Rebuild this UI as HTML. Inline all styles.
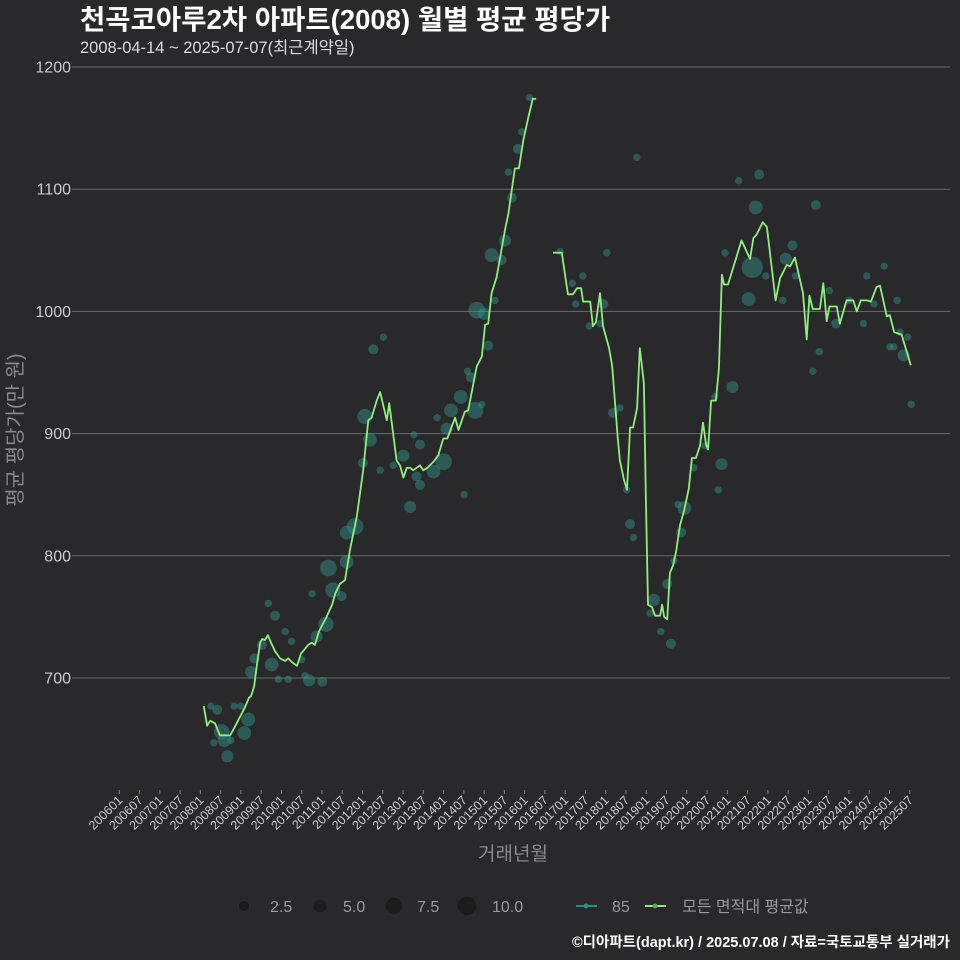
<!DOCTYPE html>
<html><head><meta charset="utf-8"><style>
html,body{margin:0;padding:0;background:#29282a;}
svg{display:block;font-family:"Liberation Sans","Noto Sans CJK KR",sans-serif;}
</style></head><body>
<svg id="chart" width="960" height="960" viewBox="0 0 960 960">
<rect width="960" height="960" fill="#29282a"/>
<text x="80" y="29" font-size="27.5" font-weight="bold" fill="#ffffff">천곡코아루2차 아파트(2008) 월별 평균 평당가</text>
<text x="80" y="53" font-size="16.5" fill="#dddddd">2008-04-14 ~ 2025-07-07(최근계약일)</text>
<g id="grid"></g>
<g id="yticks"></g>
<g id="xticks"></g>
<g id="bubbles"></g>
<g id="lines"></g>
<text x="513" y="860" font-size="19" fill="#8a8a8a" text-anchor="middle">거래년월</text>
<text transform="translate(22,430) rotate(-90)" font-size="20" fill="#8a8a8a" text-anchor="middle">평균 평당가(만 원)</text>
<g>
<g><circle cx="244" cy="906" r="5.5" fill="#1c1c1d" stroke="#333" stroke-width="0.5"/><text x="270" y="912" font-size="16" fill="#9a9a9a">2.5</text></g>
<g><circle cx="320" cy="906" r="7" fill="#1c1c1d" stroke="#333" stroke-width="0.5"/><text x="343" y="912" font-size="16" fill="#9a9a9a">5.0</text></g>
<g><circle cx="394" cy="906" r="8.7" fill="#1c1c1d" stroke="#333" stroke-width="0.5"/><text x="417" y="912" font-size="16" fill="#9a9a9a">7.5</text></g>
<g><circle cx="467" cy="906" r="9.7" fill="#1c1c1d" stroke="#333" stroke-width="0.5"/><text x="492" y="912" font-size="16" fill="#9a9a9a">10.0</text></g>
<g><line x1="576" y1="906" x2="597" y2="906" stroke="#2a8f8c" stroke-width="2"/><circle cx="586" cy="906" r="2.5" fill="#2a8f8c"/><text x="612" y="912" font-size="16" fill="#9a9a9a">85</text></g>
<g><line x1="645" y1="906" x2="666" y2="906" stroke="#90ee80" stroke-width="2"/><circle cx="655" cy="906" r="2.5" fill="#5aa85a"/><text x="682" y="912" font-size="16" fill="#9a9a9a">모든 면적대 평균값</text></g>
</g>
<text x="950" y="947" font-size="14.5" font-weight="bold" fill="#ffffff" text-anchor="end">©디아파트(dapt.kr) / 2025.07.08 / 자료=국토교통부 실거래가</text>
</svg>
<script>
// month index: 0 = 2006-01
const yTicks = [700, 800, 900, 1000, 1100, 1200];
const xTickMonths = [];
for (let m = 0; m <= 234; m += 6) xTickMonths.push(m);
const lineMonths = [25,26,26.9,28.3,29.8,31.3,32.8,34,35.7,37.2,38.4,39,39.9,40.8,41.7,42.3,43.1,44,44.9,46.1,47.6,49.1,50,51.1,52.6,53.8,54.7,55.9,57,57.9,59.1,60,61.2,63,63.9,65.3,66.8,68.3,70.3,72.2,73.7,74.7,76.2,77.2,79.2,79.9,82.1,83.1,84.1,85.1,86.1,87,88,89,90,91.2,93,94.4,95.9,97.1,99.4,100.4,102.3,103.3,105.8,107.3,108.3,109.2,110.2,111.7,114.2,115.2,117.1,118.3,119.6,121.1,122.4,123.4,
128.4,131,132.8,134.3,135.5,136.7,137.3,139.4,140.2,141.1,142.3,143.2,145,145.9,147.6,148.2,149.4,150.3,151.2,152.1,153.3,154.1,155.3,155.9,156.5,157.7,158.6,160.1,160.7,161.3,162.2,163,163.9,164.8,166,167.2,168.6,169.5,170.7,171.9,172.8,173.7,174.3,175.2,176.6,177.5,178.4,179,180.2,184.2,186.7,187.7,188.7,190.5,191.7,194.3,195.6,197.6,198.6,200,202.4,203.5,204.3,205.3,207.4,208.4,209.4,210.2,212.4,213.3,215.3,217.3,218.3,219.5,221.3,222.5,224.2,225.2,227.2,228.1,229.4,231.6,234.3];
const lineValues = [677,661,665,663,653,653,653,659,668,676,684,685,693,712,729,732,731,735,729,722,716,714,716,713,710,720,723,727,729,727,738,743,749,760,769,777,780,805,832,870,911,913,927,934,911,925,878,874,864,872,872,870,872,874,870,872,877,882,896,896,913,903,918,919,955,963,989,990,1015,1028,1067,1080,1117,1117,1140,1159,1174,1174,
1048,1048,1014,1014,1019,1019,1008,1008,988,991,1015,988,970,955,895,878,862,854,905,905,921,970,941,846,760,758,751,751,760,750,748,786,792,803,825,837,855,880,880,890,909,891,887,927,927,953,1030,1022,1022,1058,1043,1060,1063,1073,1069,1009,1027,1038,1037,1044,1015,977,1013,1002,1002,1023,992,1004,1004,990,1009,1009,1000,1009,1009,1008,1020,1021,996,997,983,981,956];
const bubbleMonths = [29,27.1,30.3,31.1,28,32,33,34,36,37,38.2,39,40,42.2,44.1,46.1,45.1,49.1,51,47.1,50,54,55,56.2,60.1,57.1,58.4,61.2,63.2,65.8,61.9,67.3,69.8,67.3,86.1,102.1,89,84.1,81.1,77.2,72.1,74.2,72.7,75.2,78.2,87.2,89,88,93,96,94.1,96.9,98.2,101.1,105.3,107.3,104.1,103.1,109.2,105.8,108,111.2,110.2,113.2,114.2,116.2,115.2,118,119.1,121.4,
153.2,130.5,144.3,137.2,134.1,135.1,139.1,143.3,142.3,146.2,148.2,150.2,151.2,152.2,157.1,158.3,160.3,163.3,162.2,164.2,166.3,167.3,165.4,170.1,173.4,177.3,178.3,176.3,181.5,179.3,183.4,189.4,188.4,187.4,186.3,191.4,196.4,197.3,199.3,200.2,206.2,205.3,207.2,210.2,212.2,216.1,220.3,221.3,223.4,226.4,230.3,231.1,228.1,229.3,232.2,233.4,234.4];
const bubbleValues = [674,677,656,649,647,636,649,677,677,655,666,705,716,727,761,751,711,738,730,699,699,715,702,698,697,769,734,744,772,767,790,795,824,819,840,850,891,882,874,870,876,895,914,969,979,899,858,865,869,877,913,904,919,930,919,924,946,951,972,1001,998,1009,1046,1042,1058,1093,1114,1133,1147,1175,
1126,1049,1048,1029,1023,1006,988,1006,990,917,921,854,826,815,753,764,738,728,777,796,819,839,842,872,890,854,875,930,938,1048,1107,1112,1085,1036,1010,1029,1009,1043,1054,1029,1087,951,967,1017,990,1009,990,1029,1006,1037,1009,983,971,971,964,979,924];
const bubbleCounts = [2,1,5,4,1,3,1,1,1,4,4,3,2,2,1,2,4,1,1,1,1,1,1,3,2,1,3,5,5,2,6,4,6,4,3,1,2,3,1,1,2,4,5,2,1,1,2,2,4,6,1,3,4,4,6,1,2,1,2,6,3,1,4,2,3,2,1,2,1,1,
1,1,1,1,1,1,1,2,1,2,1,1,2,1,1,3,1,2,2,1,2,4,1,1,1,1,3,1,3,1,1,2,4,10,4,1,1,3,2,1,2,1,1,1,2,1,1,1,1,1,1,1,1,1,3,1,1];

const NS = 'http://www.w3.org/2000/svg';
const X0 = 119.3, XM = 3.378, Y0 = 678, YS = 1.222;
function xScale(m){ return X0 + m * XM; }
function yScale(v){ return Y0 - (v - 700) * YS; }
function rScale(n){ return 3.2 * Math.sqrt(n) + 0.5; }
function mk(tag, attrs, parent){ const e = document.createElementNS(NS, tag); for (const k in attrs) e.setAttribute(k, attrs[k]); parent.appendChild(e); return e; }

const grid = document.getElementById('grid');
const yg = document.getElementById('yticks');
yTicks.forEach(v => {
  const y = yScale(v);
  const l = mk('line', {x1:76, x2:950, y1:y, y2:y, stroke:'#6a6a6a', 'stroke-width':1}, grid);
  
  
  const t = mk('line', {x1:72, x2:76, y1:y, y2:y, stroke:'#6a6a6a', 'stroke-width':1}, yg);
  
  
  const tx = mk('text', {x:71, y:y+5.5, 'font-size':16, fill:'#cccccc', 'text-anchor':'end'}, yg);
  tx.textContent = v;
  
  
});
const xg = document.getElementById('xticks');
xTickMonths.forEach(m => {
  const x = xScale(m);
  const t = mk('line', {x1:x, x2:x, y1:790, y2:794, stroke:'#888', 'stroke-width':1}, xg);
  
  
  const yr = 2006 + Math.floor(m / 12), mo = (m % 12) + 1;
  const lbl = String(yr) + (mo < 10 ? '0' : '') + mo;
  const tx = mk('text', {x:x+4, y:801, 'font-size':12.5, fill:'#cccccc', 'text-anchor':'end', transform:'rotate(-45 ' + (x+4) + ' 801)'}, xg);
  tx.textContent = lbl;
  
  
});
const bg = document.getElementById('bubbles');
bubbleMonths.forEach((m, i) => {
  const c = mk('circle', {cx:xScale(m), cy:yScale(bubbleValues[i]), r:rScale(bubbleCounts[i]), fill:'rgba(52,150,142,0.45)'}, bg);
  
  
});
const lg = document.getElementById('lines');
let d = '';
lineMonths.forEach((m, i) => {
  const brk = i === 0 || (m - lineMonths[i-1]) > 4;
  d += (brk ? 'M' : 'L') + xScale(m).toFixed(1) + ',' + yScale(lineValues[i]).toFixed(1);
});
const p = mk('path', {d:d, fill:'none', stroke:'#90ee80', 'stroke-width':1.8, 'stroke-linejoin':'round'}, lg);


</script>
</body></html>
